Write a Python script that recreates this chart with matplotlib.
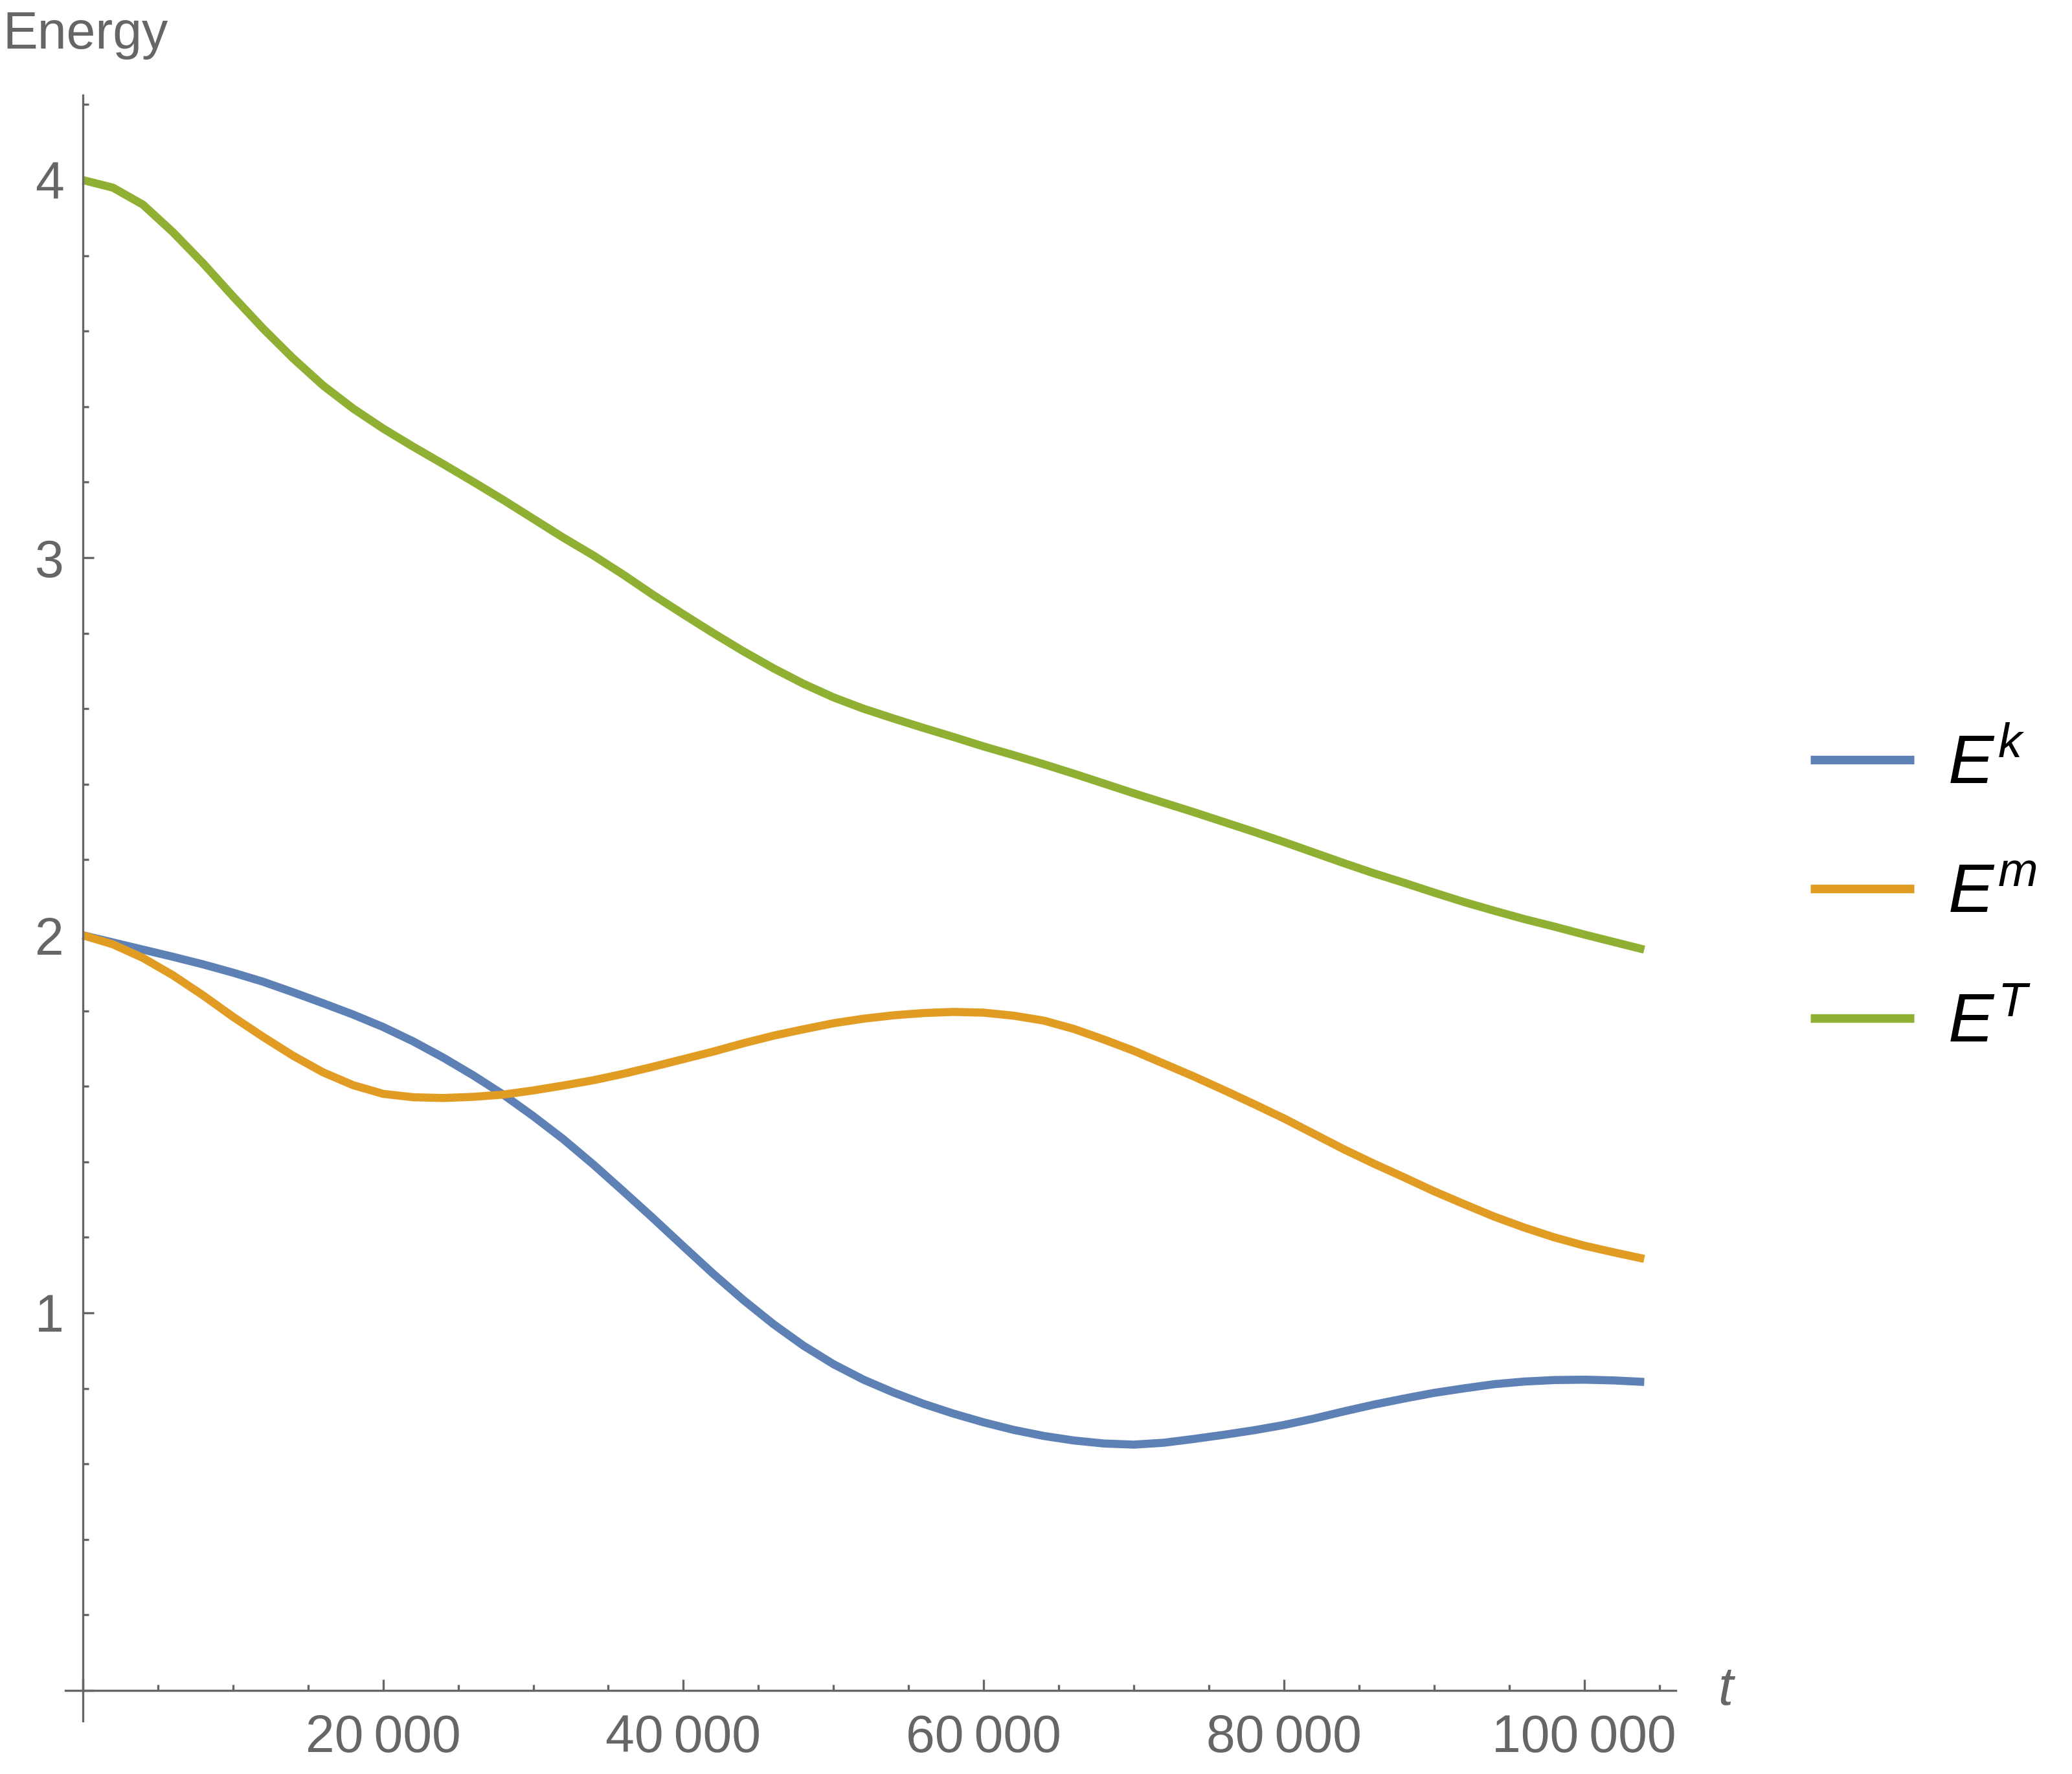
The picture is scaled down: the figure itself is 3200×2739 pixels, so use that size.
import matplotlib
matplotlib.use('Agg')
import matplotlib.pyplot as plt
import matplotlib.transforms as mtransforms
from matplotlib.ticker import MultipleLocator, FuncFormatter

# time axis shared by the three curves
t = [0, 2000, 4000, 6000, 8000, 10000, 12000, 14000, 16000, 18000,
     20000, 22000, 24000, 26000, 28000, 30000, 32000, 34000, 36000, 38000,
     40000, 42000, 44000, 46000, 48000, 50000, 52000, 54000, 56000, 58000,
     60000, 62000, 64000, 66000, 68000, 70000, 72000, 74000, 76000, 78000,
     80000, 82000, 84000, 86000, 88000, 90000, 92000, 94000, 96000, 98000,
     100000, 102000, 104000]

# kinetic energy E^k
e_k = [2.000, 1.981, 1.962, 1.943, 1.923, 1.901, 1.877, 1.849, 1.820, 1.790,
       1.757, 1.719, 1.676, 1.629, 1.578, 1.521, 1.460, 1.393, 1.322, 1.250,
       1.176, 1.103, 1.034, 0.970, 0.913, 0.864, 0.823, 0.789, 0.759, 0.733,
       0.710, 0.690, 0.674, 0.662, 0.654, 0.651, 0.656, 0.666, 0.677, 0.689,
       0.703, 0.720, 0.739, 0.757, 0.773, 0.788, 0.800, 0.811, 0.818, 0.822,
       0.823, 0.821, 0.817]

# magnetic energy E^m
e_m = [2.000, 1.976, 1.940, 1.894, 1.841, 1.784, 1.731, 1.681, 1.637, 1.603,
       1.580, 1.571, 1.569, 1.572, 1.578, 1.589, 1.602, 1.616, 1.633, 1.652,
       1.672, 1.692, 1.714, 1.734, 1.751, 1.767, 1.779, 1.788, 1.794, 1.797,
       1.795, 1.787, 1.774, 1.752, 1.724, 1.694, 1.660, 1.626, 1.590, 1.553,
       1.515, 1.474, 1.433, 1.395, 1.359, 1.322, 1.288, 1.255, 1.226, 1.200,
       1.178, 1.160, 1.143]

# total energy E^T
e_t = [4.000, 3.980, 3.935, 3.862, 3.780, 3.692, 3.607, 3.528, 3.456, 3.395,
       3.342, 3.294, 3.248, 3.201, 3.153, 3.103, 3.053, 3.006, 2.955, 2.901,
       2.850, 2.800, 2.752, 2.707, 2.666, 2.630, 2.600, 2.574, 2.549, 2.525,
       2.500, 2.477, 2.453, 2.428, 2.402, 2.376, 2.351, 2.326, 2.300, 2.274,
       2.247, 2.219, 2.191, 2.164, 2.139, 2.113, 2.088, 2.065, 2.043, 2.023,
       2.002, 1.982, 1.962]

labels = [r'$E^{k}$', r'$E^{m}$', r'$E^{T}$']
colours = ['#5E81B5', '#E19C24', '#8FB032']

plt.rcParams['font.family'] = ['Liberation Sans', 'DejaVu Sans']
plt.rcParams['mathtext.fontset'] = 'custom'
plt.rcParams['mathtext.it'] = 'Liberation Sans:italic'
plt.rcParams['mathtext.rm'] = 'Liberation Sans'

grey = '#666666'

fig = plt.figure(figsize=(16, 13.695), dpi=200)
ax = fig.add_axes([0.03166, 0.03008, 0.7771, 0.9163])

for y, lab, col in zip([e_k, e_m, e_t], labels, colours):
    ax.plot(t, y, color=col, lw=4.5, label=lab, solid_capstyle='butt',
            solid_joinstyle='round')

ax.set_xlim(-1150, 106100)
ax.set_ylim(-0.08, 4.225)

# axes crossing at the origin, Mathematica style
ax.spines['top'].set_visible(False)
ax.spines['right'].set_visible(False)
ax.spines['left'].set_position(('data', 0))
ax.spines['bottom'].set_position(('data', 0))
for s in ('left', 'bottom'):
    ax.spines[s].set_color(grey)
    ax.spines[s].set_linewidth(1.2)

ax.xaxis.set_major_locator(MultipleLocator(20000))
ax.xaxis.set_minor_locator(MultipleLocator(5000))
ax.yaxis.set_major_locator(MultipleLocator(1))
ax.yaxis.set_minor_locator(MultipleLocator(0.2))


def _thousands(v, pos):
    if v <= 0:
        return ''
    return '{:,}'.format(int(round(v))).replace(',', '\u2009')


def _ints(v, pos):
    if v <= 0:
        return ''
    return '{:d}'.format(int(round(v)))


ax.xaxis.set_major_formatter(FuncFormatter(_thousands))
ax.yaxis.set_major_formatter(FuncFormatter(_ints))

ax.tick_params(axis='both', which='both', direction='in', color=grey,
               width=1.2, labelcolor=grey, labelsize=29)
ax.tick_params(axis='both', which='major', length=6.2)
ax.tick_params(axis='both', which='minor', length=3.3)
ax.tick_params(axis='x', which='major', pad=13)
ax.tick_params(axis='y', which='major', pad=10.5)

# axis labels
fig.text(4 / 3200, 1 - 75 / 2739, 'Energy', color=grey, fontsize=29,
         ha='left', va='baseline')
ax.text(2665 / 3200, 0, 't', color=grey, fontsize=30, style='italic',
        ha='center', va='center',
        transform=mtransforms.blended_transform_factory(fig.transFigure,
                                                        ax.transData))

leg = ax.legend(loc='center left', bbox_to_anchor=(0.8738, 0.4955),
                bbox_transform=fig.transFigure, frameon=False, fontsize=38,
                handlelength=1.51, handletextpad=0.5, labelspacing=0.95,
                borderpad=0, borderaxespad=0)
for line in leg.get_lines():
    line.set_linewidth(4.8)
for txt in leg.get_texts():
    txt.set_color('black')

fig.savefig('out.png', dpi=200)
